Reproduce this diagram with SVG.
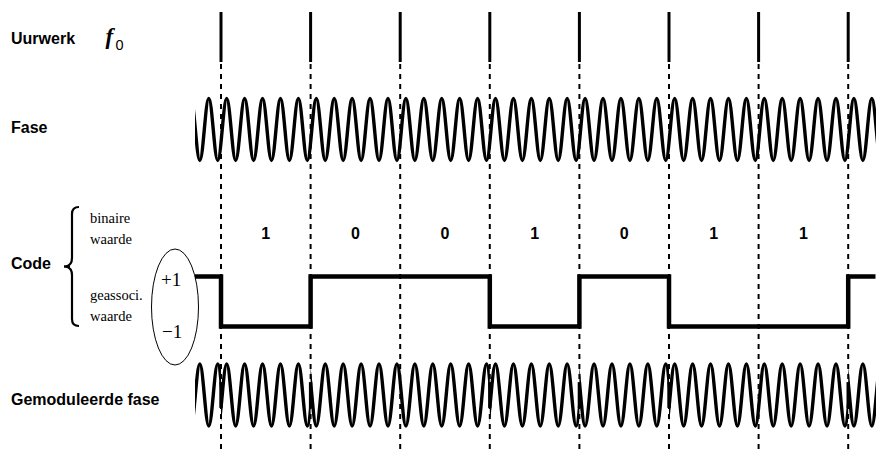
<svg xmlns="http://www.w3.org/2000/svg" xmlns:xlink="http://www.w3.org/1999/xlink" width="891" height="463" viewBox="0 0 891 463">
<style>
.lbl{font-family:"Liberation Sans",Arial,sans-serif;font-weight:bold;font-size:16px;fill:#000}
.bit{font-family:"Liberation Sans",Arial,sans-serif;font-weight:bold;font-size:16px;fill:#000;text-anchor:middle}
.sm{font-family:"Liberation Serif","Times New Roman",serif;font-size:14.5px;fill:#000}
.pm{font-family:"Liberation Serif","Times New Roman",serif;font-size:19px;fill:#000}
.tick{stroke:#000;stroke-width:3;fill:none}
.dash{stroke:#000;stroke-width:2;stroke-dasharray:5 5;fill:none}
.wave{stroke:#000;stroke-width:3.4;fill:none;stroke-linejoin:round}
.sq{stroke:#000;stroke-width:4.5;fill:none;stroke-linejoin:miter}
.jmp{stroke:#000;stroke-width:3.4}
</style>
<defs>
<path id="w" class="wave" d="M172.94,-31c3.256,0 5.704,62 8.96,62
s5.704,-62 8.96,-62s5.704,62 8.96,62s5.704,-62 8.96,-62s5.704,62 8.96,62s5.704,-62 8.96,-62s5.704,62 8.96,62
s5.704,-62 8.96,-62s5.704,62 8.96,62s5.704,-62 8.96,-62s5.704,62 8.96,62s5.704,-62 8.96,-62s5.704,62 8.96,62
s5.704,-62 8.96,-62s5.704,62 8.96,62s5.704,-62 8.96,-62s5.704,62 8.96,62s5.704,-62 8.96,-62s5.704,62 8.96,62
s5.704,-62 8.96,-62s5.704,62 8.96,62s5.704,-62 8.96,-62s5.704,62 8.96,62s5.704,-62 8.96,-62s5.704,62 8.96,62
s5.704,-62 8.96,-62s5.704,62 8.96,62s5.704,-62 8.96,-62s5.704,62 8.96,62s5.704,-62 8.96,-62s5.704,62 8.96,62
s5.704,-62 8.96,-62s5.704,62 8.96,62s5.704,-62 8.96,-62s5.704,62 8.96,62s5.704,-62 8.96,-62s5.704,62 8.96,62
s5.704,-62 8.96,-62s5.704,62 8.96,62s5.704,-62 8.96,-62s5.704,62 8.96,62s5.704,-62 8.96,-62s5.704,62 8.96,62
s5.704,-62 8.96,-62s5.704,62 8.96,62s5.704,-62 8.96,-62s5.704,62 8.96,62s5.704,-62 8.96,-62s5.704,62 8.96,62
s5.704,-62 8.96,-62s5.704,62 8.96,62s5.704,-62 8.96,-62s5.704,62 8.96,62s5.704,-62 8.96,-62s5.704,62 8.96,62
s5.704,-62 8.96,-62s5.704,62 8.96,62s5.704,-62 8.96,-62s5.704,62 8.96,62s5.704,-62 8.96,-62s5.704,62 8.96,62
s5.704,-62 8.96,-62s5.704,62 8.96,62s5.704,-62 8.96,-62s5.704,62 8.96,62s5.704,-62 8.96,-62s5.704,62 8.96,62
s5.704,-62 8.96,-62s5.704,62 8.96,62s5.704,-62 8.96,-62s5.704,62 8.96,62s5.704,-62 8.96,-62s5.704,62 8.96,62
s5.704,-62 8.96,-62s5.704,62 8.96,62s5.704,-62 8.96,-62s5.704,62 8.96,62s5.704,-62 8.96,-62s5.704,62 8.96,62
s5.704,-62 8.96,-62"/>
<clipPath id="cF"><rect x="195" y="0" width="681" height="463"/></clipPath>
<clipPath id="cPos">
<rect x="195" y="330" width="26" height="133"/>
<rect x="310.6" y="330" width="179.2" height="133"/>
<rect x="579.4" y="330" width="89.6" height="133"/>
<rect x="848.2" y="330" width="27.8" height="133"/>
</clipPath>
<clipPath id="cNeg">
<rect x="221" y="330" width="89.6" height="133"/>
<rect x="489.8" y="330" width="89.6" height="133"/>
<rect x="669" y="330" width="179.2" height="133"/>
</clipPath>
</defs>
<rect width="891" height="463" fill="#fff"/>

<g id="labels">
<text class="lbl" x="11" y="44">Uurwerk</text>
<text x="105.5" y="44" style="font-family:'Liberation Serif','Times New Roman',serif;font-style:italic;font-weight:bold;font-size:23px">f</text>
<text x="115.5" y="50" style="font-family:'Liberation Sans',Arial,sans-serif;font-size:14.5px">0</text>
<text class="lbl" x="11" y="133">Fase</text>
<text class="lbl" x="11" y="268.5">Code</text>
<text class="lbl" x="11" y="405">Gemoduleerde fase</text>
</g>

<g id="code-legend">
<path d="M79,207 C74.5,207 72,209.5 72,214 V258 C72,263 70,265.5 66,266.5 C70,267.5 72,270 72,275 V319 C72,323.5 74.5,326 79,326" stroke="#000" stroke-width="2.2" fill="none"/>
<line x1="64" y1="266.5" x2="70" y2="266.5" stroke="#000" stroke-width="2.5"/>
<text class="sm" x="90" y="222.5">binaire</text>
<text class="sm" x="90" y="244">waarde</text>
<text class="sm" x="90" y="300">geassoci.</text>
<text class="sm" x="90" y="321">waarde</text>
<ellipse cx="175" cy="307" rx="23.5" ry="58" stroke="#000" stroke-width="1" fill="none"/>
<text class="pm" x="161" y="286">+1</text>
<text class="pm" x="162" y="338">−1</text>
</g>

<g id="clock">
<g class="dash">
<line x1="221" y1="64" x2="221" y2="452"/>
<line x1="310.6" y1="64" x2="310.6" y2="452"/>
<line x1="400.2" y1="64" x2="400.2" y2="452"/>
<line x1="489.8" y1="64" x2="489.8" y2="452"/>
<line x1="579.4" y1="64" x2="579.4" y2="452"/>
<line x1="669" y1="64" x2="669" y2="452"/>
<line x1="758.6" y1="64" x2="758.6" y2="452"/>
<line x1="848.2" y1="64" x2="848.2" y2="452"/>
</g>
<g class="tick">
<line x1="221" y1="12" x2="221" y2="62"/>
<line x1="310.6" y1="12" x2="310.6" y2="62"/>
<line x1="400.2" y1="12" x2="400.2" y2="62"/>
<line x1="489.8" y1="12" x2="489.8" y2="62"/>
<line x1="579.4" y1="12" x2="579.4" y2="62"/>
<line x1="669" y1="12" x2="669" y2="62"/>
<line x1="758.6" y1="12" x2="758.6" y2="62"/>
<line x1="848.2" y1="12" x2="848.2" y2="62"/>
</g>
</g>

<g id="fase">
<g clip-path="url(#cF)"><use xlink:href="#w" href="#w" x="0" y="129.5"/></g>
</g>

<g id="bits">
<text class="bit" x="265.8" y="239">1</text>
<text class="bit" x="355.4" y="239">0</text>
<text class="bit" x="445" y="239">0</text>
<text class="bit" x="534.6" y="239">1</text>
<text class="bit" x="624.2" y="239">0</text>
<text class="bit" x="713.8" y="239">1</text>
<text class="bit" x="803.4" y="239">1</text>
</g>

<g id="code-signal">
<path class="sq" d="M195,276.5 H221 V326.5 H310.6 V276.5 H489.8 V326.5 H579.4 V276.5 H669 V326.5 H848.2 V276.5 H875.5"/>
</g>

<g id="modulated">
<g clip-path="url(#cPos)"><use xlink:href="#w" href="#w" x="8.96" y="395"/></g>
<g clip-path="url(#cNeg)"><use xlink:href="#w" href="#w" x="0" y="395"/></g>
<g class="jmp">
<line x1="221" y1="382.1" x2="221" y2="407.9"/>
<line x1="310.6" y1="382.1" x2="310.6" y2="407.9"/>
<line x1="489.8" y1="382.1" x2="489.8" y2="407.9"/>
<line x1="579.4" y1="382.1" x2="579.4" y2="407.9"/>
<line x1="669" y1="382.1" x2="669" y2="407.9"/>
<line x1="848.2" y1="382.1" x2="848.2" y2="407.9"/>
</g>
</g>
</svg>
